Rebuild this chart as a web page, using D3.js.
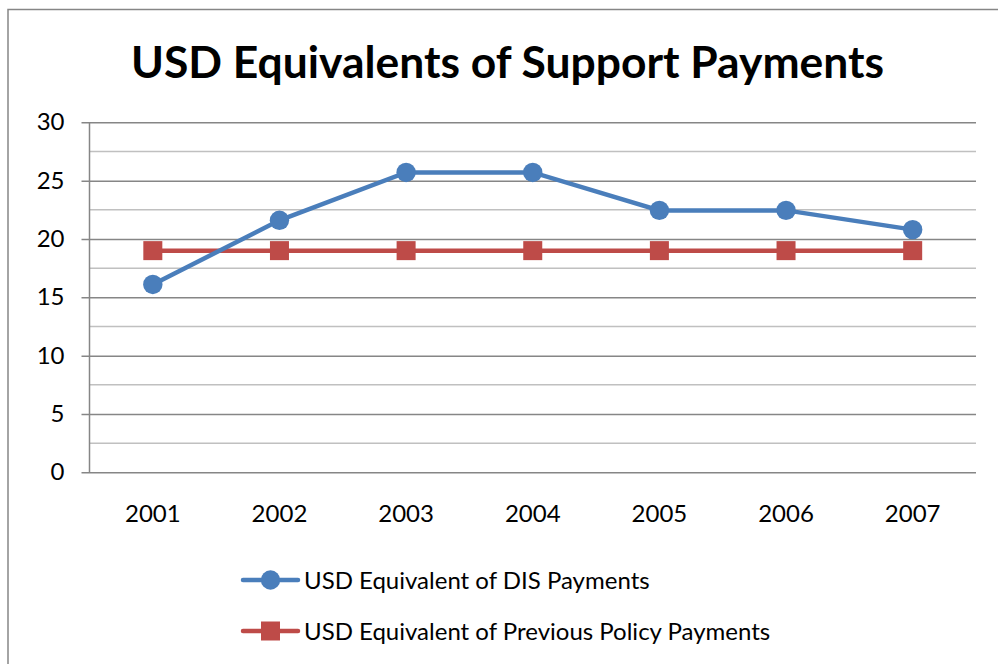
<!DOCTYPE html>
<html>
<head>
<meta charset="utf-8">
<script src="https://cdn.jsdelivr.net/npm/d3@7"></script>
<style>
  html, body { margin: 0; padding: 0; background: #fff; }
  svg { display: block; font-family: Lato, "Open Sans", "Noto Sans", sans-serif; }
</style>
</head>
<body>
<svg id="chart" width="998" height="664"></svg>
<script>
// Chart data
const years = ["2001", "2002", "2003", "2004", "2005", "2006", "2007"];
const disPayments = [16.1, 21.6, 25.7, 25.7, 22.45, 22.45, 20.8];
const previousPayments = [19, 19, 19, 19, 19, 19, 19];
const yTicks = [0, 5, 10, 15, 20, 25, 30];
const yMinorTicks = [2.5, 7.5, 12.5, 17.5, 22.5, 27.5];
const seriesNames = ["USD Equivalent of DIS Payments", "USD Equivalent of Previous Policy Payments"];
const titleText = "USD Equivalents of Support Payments";

const svg = d3.select("#chart");
const W = 998, H = 664;
const plot = { left: 89.5, right: 976, top: 122.3, bottom: 472.3 };
const blue = "#4a7ebb", red = "#be4b48";
const labelFont = "Lato, 'Open Sans', sans-serif";

// outer chart frame
svg.append("rect")
  .attr("x", 8).attr("y", 9.5).attr("width", W + 20).attr("height", H + 20)
  .attr("fill", "#fff").attr("stroke", "#868686").attr("stroke-width", 1.5);

svg.append("text")
  .attr("x", 507.5).attr("y", 78)
  .attr("text-anchor", "middle")
  .attr("font-size", 44.4).attr("font-weight", "bold")
  .attr("fill", "#000")
  .text(titleText);

const x = d3.scaleBand().domain(years).range([plot.left, plot.right]);
const y = d3.scaleLinear().domain([0, 30]).range([plot.bottom, plot.top]);

// minor gridlines
svg.append("g").selectAll("line").data(yMinorTicks).join("line")
  .attr("x1", plot.left).attr("x2", plot.right)
  .attr("y1", d => y(d)).attr("y2", d => y(d))
  .attr("stroke", "#c0c0c0").attr("stroke-width", 1.5);

// major gridlines + y axis
const yAxis = d3.axisLeft(y).tickValues(yTicks).tickSize(plot.right - plot.left + 8).tickPadding(17).tickFormat(d3.format("d"));
const gy = svg.append("g").attr("transform", `translate(${plot.right},0)`).call(yAxis);
gy.select(".domain").remove();
gy.selectAll(".tick line").attr("stroke", "#868686").attr("stroke-width", 1.5);
gy.selectAll(".tick text").attr("font-size", 24).attr("fill", "#000").attr("font-family", labelFont);

// vertical axis line
svg.append("line")
  .attr("x1", plot.left).attr("x2", plot.left)
  .attr("y1", plot.top).attr("y2", plot.bottom)
  .attr("stroke", "#868686").attr("stroke-width", 1.5);

// x axis labels
const xAxis = d3.axisBottom(x).tickSize(0).tickPadding(33);
const gx = svg.append("g").attr("transform", `translate(0,${plot.bottom})`).call(xAxis);
gx.select(".domain").remove();
gx.selectAll(".tick text").attr("font-size", 24).attr("fill", "#000").attr("font-family", labelFont);

const cx = d => x(d) + x.bandwidth() / 2;
const line = d3.line().x((d, i) => cx(years[i])).y(d => y(d));

svg.append("path").datum(previousPayments)
  .attr("d", line).attr("fill", "none").attr("stroke", red).attr("stroke-width", 4.5);
svg.append("path").datum(disPayments)
  .attr("d", line).attr("fill", "none").attr("stroke", blue).attr("stroke-width", 4.5);

svg.append("g").selectAll("rect").data(previousPayments).join("rect")
  .attr("x", (d, i) => cx(years[i]) - 9.5).attr("y", d => y(d) - 9.5)
  .attr("width", 19).attr("height", 19).attr("fill", red);
svg.append("g").selectAll("circle").data(disPayments).join("circle")
  .attr("cx", (d, i) => cx(years[i])).attr("cy", d => y(d)).attr("r", 9.7)
  .attr("fill", blue);

// legend
const legend = svg.append("g");
const rows = [
  { name: seriesNames[0], color: blue, shape: "circle", y: 580 },
  { name: seriesNames[1], color: red, shape: "square", y: 631 }
];
rows.forEach(r => {
  legend.append("line").attr("x1", 243).attr("x2", 298).attr("y1", r.y).attr("y2", r.y)
    .attr("stroke", r.color).attr("stroke-width", 4.5).attr("stroke-linecap", "round");
  if (r.shape === "circle") {
    legend.append("circle").attr("cx", 270.5).attr("cy", r.y).attr("r", 9.7).attr("fill", r.color);
  } else {
    legend.append("rect").attr("x", 261).attr("y", r.y - 9.5).attr("width", 19).attr("height", 19).attr("fill", r.color);
  }
  legend.append("text").attr("x", 304).attr("y", r.y + 8.5)
    .attr("font-size", 24).attr("fill", "#000").text(r.name);
});
</script>
</body>
</html>
